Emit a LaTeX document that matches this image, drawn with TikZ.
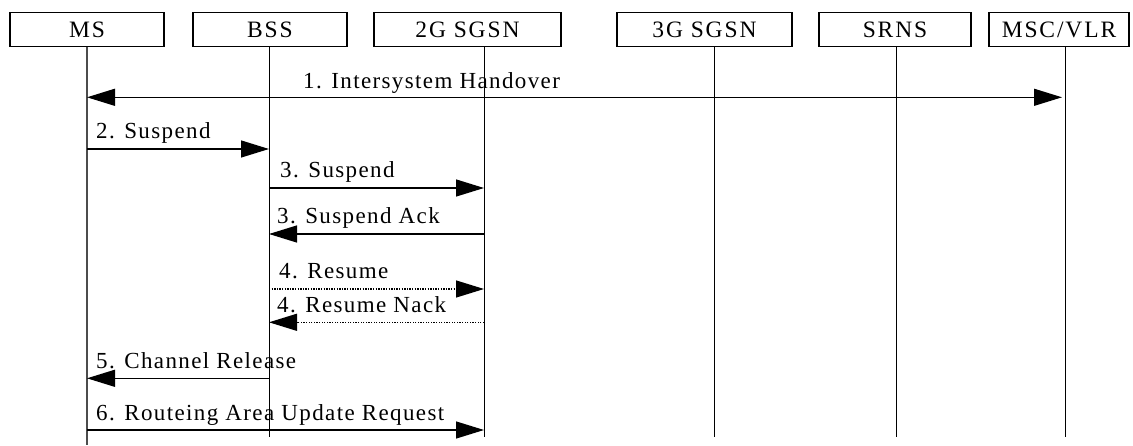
\documentclass[tikz,border=0pt]{standalone}
\usepackage{fontspec}
\setmainfont{Liberation Serif}[LetterSpace=6]
\newfontfamily\entfont{Liberation Serif}[LetterSpace=8]
\usetikzlibrary{arrows.meta}
\tikzset{
  ent/.style={draw, line width=1.2pt, inner sep=0pt, minimum height=34pt, font=\entfont\fontsize{23.5}{27}\selectfont},
  life/.style={line width=1pt},
  msg/.style={line width=1.3pt, -{Triangle[length=28pt,width=17pt]}},
  dmsg/.style={msg, dash pattern=on 1.3pt off 1.3pt},
  lbl/.style={anchor=base west, inner sep=0pt, font=\fontsize{23}{27}\selectfont}
}
\begin{document}
\begin{tikzpicture}[x=1pt,y=-1pt]
\useasboundingbox (0,0) rectangle (1133,446);
% entities
\node[ent, minimum width=154pt] (ms)  at (87,29.7)    {MS};
\node[ent, minimum width=154pt] (bss) at (270,29.7)   {BSS};
\node[ent, minimum width=187pt] (sg2) at (467.5,29.7) {2G SGSN};
\node[ent, minimum width=175pt] (sg3) at (704.5,29.7) {3G SGSN};
\node[ent, minimum width=152pt] (srns) at (895,29.7)  {SRNS};
\node[ent, minimum width=140pt] (msc) at (1059,29.7)  {MSC/VLR};
% lifelines
\coordinate (msT) at (87,46.7);    \coordinate (msB) at (87,445);
\coordinate (bsT) at (269,46.7);   \coordinate (bsB) at (269,437);
\coordinate (g2T) at (484,46.7);   \coordinate (g2B) at (484,437);
\coordinate (g3T) at (714,46.7);   \coordinate (g3B) at (714,437);
\coordinate (srT) at (896,46.7);   \coordinate (srB) at (896,437);
\coordinate (mcT) at (1065,46.7);  \coordinate (mcB) at (1065,437);
\draw[life, line width=1.3pt, black!70] (msT) -- (msB);
\draw[life] (bsT) -- (bsB);
\draw[life] (g2T) -- (g2B);
\draw[life] (g3T) -- (g3B);
\draw[life] (srT) -- (srB);
\draw[life] (mcT) -- (mcB);
% message end points
\coordinate (m1a) at (87,97.3);  \coordinate (m1b) at (1062,97.3);
\coordinate (m2a) at (87,149);   \coordinate (m2b) at (269,149);
\coordinate (m3a) at (269,188);  \coordinate (m3b) at (484,188);
\coordinate (m4a) at (484,234);  \coordinate (m4b) at (269,234);
\coordinate (m5a) at (269,289);  \coordinate (m5b) at (484,289);
\coordinate (m6a) at (484,322.3);\coordinate (m6b) at (269,322.3);
\coordinate (m7a) at (269,378.3);\coordinate (m7b) at (87,378.3);
\coordinate (m8a) at (87,430);   \coordinate (m8b) at (484,430);
% messages
\draw[msg, {Triangle[length=28pt,width=17pt]}-{Triangle[length=28pt,width=17pt]}] (m1a) -- (m1b);
\draw[msg] (m2a) -- (m2b);
\draw[msg] (m3a) -- (m3b);
\draw[msg] (m4a) -- (m4b);
\draw[dmsg] (m5a) -- (m5b);
\draw[dmsg] (m6a) -- (m6b);
\draw[msg] (m7a) -- (m7b);
\draw[msg] (m8a) -- (m8b);
% labels
\node[lbl] (t1) at (303,88.3)  {1. Intersystem Handover};
\node[lbl] (t2) at (96,139)    {2. Suspend};
\node[lbl] (t3) at (280,178)   {3. Suspend};
\node[lbl] (t4) at (277,224)   {3. Suspend Ack};
\node[lbl] (t5) at (279,279)   {4. Resume};
\node[lbl] (t6) at (277,312.3) {4. Resume Nack};
\node[lbl] (t7) at (96,369)    {5. Channel Release};
\node[lbl] (t8) at (96,420)    {6. Routeing Area Update Request};
\end{tikzpicture}
\end{document}
